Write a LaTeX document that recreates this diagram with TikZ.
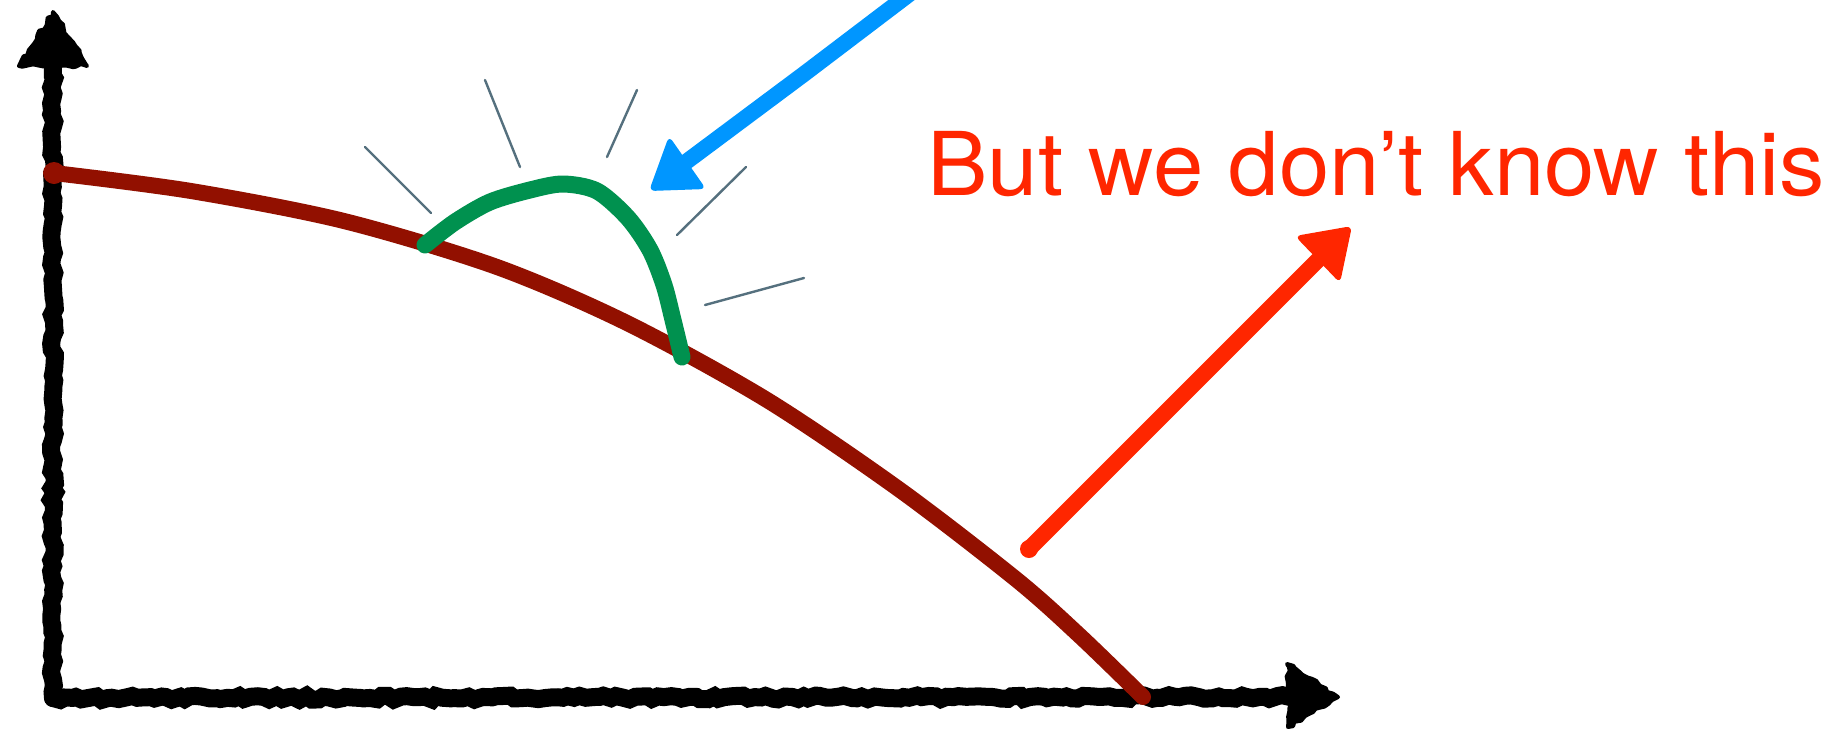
\documentclass[tikz,border=0pt]{standalone}
\usepackage{fontspec}
\setsansfont{TeX Gyre Heros}
\usetikzlibrary{decorations.pathmorphing}
\tikzset{
  chalk/.style={draw=black, line width=9pt, line cap=round,
    decorate, decoration={random steps, segment length=3pt, amplitude=1pt}},
  chalkhead/.style={fill=black, draw=black, line width=2pt, line join=round,
    decorate, decoration={random steps, segment length=2.5pt, amplitude=1pt}},
  stroke/.style={line width=8pt, line cap=round, line join=round},
  ray/.style={draw=skRay, line width=1.2pt, line cap=round},
}
\begin{document}
\begin{tikzpicture}[x=0.5pt,y=-0.5pt, every node/.style={font=\sffamily}]
  \definecolor{skCurve}{HTML}{921000}
  \definecolor{skGreen}{HTML}{00914F}
  \definecolor{skBlue}{HTML}{0096FF}
  \definecolor{skOrange}{HTML}{FF2600}
  \definecolor{skRay}{HTML}{55707E}
  \pgfmathsetseed{7}
  \useasboundingbox (0,0) rectangle (1846,729);
  % axes
  \draw[chalk] (53,698) -- (53,66);
  \draw[chalk] (53,698) -- (1290,697);
  \draw[chalkhead] (53,12) -- (87,66) -- (19,66) -- cycle;
  \draw[chalkhead] (1338,697) -- (1288,727) -- (1291,697) -- (1287,664) -- cycle;
  % the true curve
  \fill[skCurve] (54,173) circle (11);
  \draw[stroke, skCurve] plot[smooth, tension=0.5] coordinates
    {(54,173) (191,191) (344,221) (497,267) (627,323) (767,400) (900,490) (1017,580)
     (1080,636) (1143,697)};
  % the bump
  \draw[stroke, line width=8.5pt, skGreen] plot[smooth, tension=0.5] coordinates
    {(425,245) (455,222) (490,202) (530,190) (563,184) (597,191) (628,218) (650,250)
     (664,285) (673,320) (682,357)};
  % rays
  \draw[ray] (365,147) -- (431,213);
  \draw[ray] (485,80) -- (520,167);
  \draw[ray] (637,90) -- (607,157);
  \draw[ray] (746,167) -- (677,235);
  \draw[ray] (804,278) -- (705,305);
  % blue arrow
  \coordinate (blueTail) at (912,-8);
  \coordinate (blueEnd) at (682,165);
  \draw[stroke, skBlue] (blueTail) -- (804,74) -- (blueEnd);
  \fill[skBlue, rounded corners=3pt] (669,136) -- (706,189) -- (649,191) -- cycle;
  % label and red arrow
  \node[anchor=base west, inner sep=0, xscale=1.03, text=skOrange,
    font=\sffamily\fontsize{44}{50}\selectfont]
    (doubt) at (927,195) {But we don’t know this};
  \coordinate (redTail) at (1029,549);
  \coordinate (redEnd) at (1318,260);
  \fill[skOrange] (redTail) circle (9);
  \draw[stroke, skOrange] (redTail) -- (redEnd);
  \fill[skOrange, rounded corners=3pt] (1352,226) -- (1340,283) -- (1295,236) -- cycle;
\end{tikzpicture}
\end{document}
